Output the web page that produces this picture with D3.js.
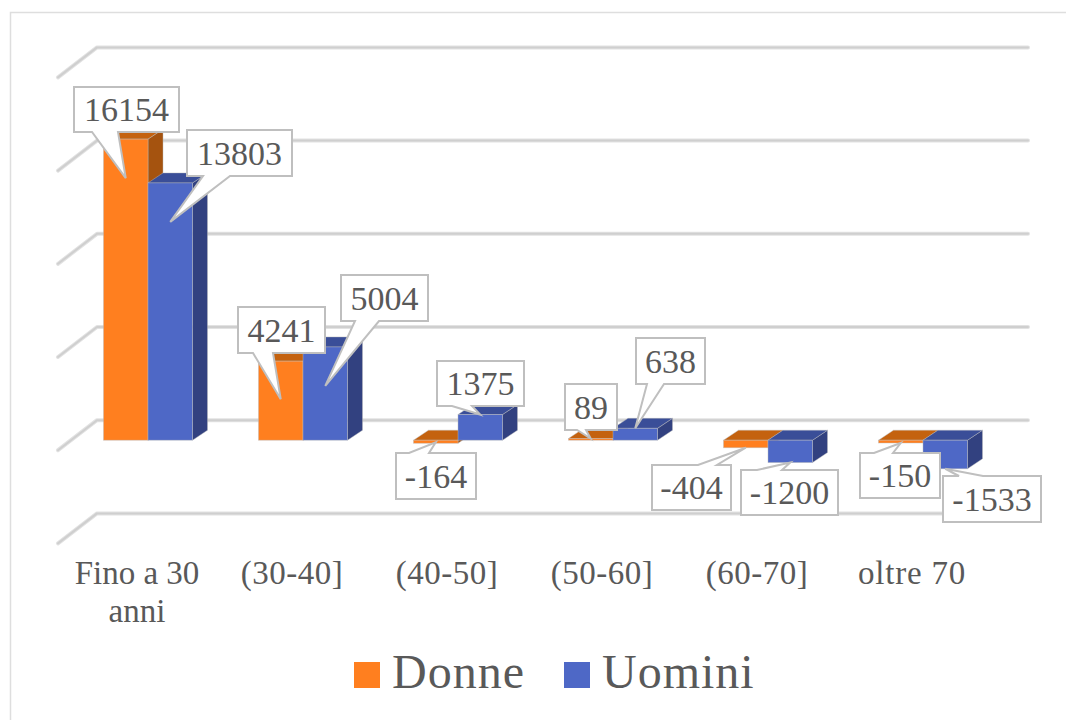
<!DOCTYPE html>
<html><head><meta charset="utf-8">
<script src="https://cdn.jsdelivr.net/npm/d3@7"></script>
<style>html,body{margin:0;padding:0;background:#fff}svg{display:block}text{font-family:"Liberation Serif",serif;fill:#595959}</style>
</head><body><svg id="c" width="1066" height="720"></svg>
<script>
const categories = ["Fino a 30 anni","(30-40]","(40-50]","(50-60]","(60-70]","oltre 70"];
const categoryLines = [["Fino a 30","anni"],["(30-40]"],["(40-50]"],["(50-60]"],["(60-70]"],["oltre 70"]];
const seriesNames = ["Donne","Uomini"];
const donne = [16154,4241,-164,89,-404,-150];
const uomini = [13803,5004,1375,638,-1200,-1533];
const gridTicks = [-5000,0,5000,10000,15000,20000];
// Callout box layout [left, top, right, bottom, tail base start, tail base end, tip drop into bar]
const calloutsDonne = [[74,87,179,132,92,118,39],[238,307,325,353,253,273,38],[396,453,476,499,409,429,-1],[565,384,617,430,577,586,0],[652,465,731,510,698,717,0],[860,453,940,498,874,893,0]];
const calloutsUomini = [[187,130,292,176,203,230,39],[341,275,428,321,355,379,39],[437,361,524,406,452,472,0],[636,338,705,384,647,664,0],[741,470,838,515,757,782,0],[943,476,1041,522,959,983,0]];

const svg = d3.select("#c");
const colors = {Donne:{front:"#FF7F1F",top:"#C4620F",side:"#A5530F"},Uomini:{front:"#4E68C6",top:"#3A4E98",side:"#324180"}};
const depthX = 15, depthY = 10;          // bar depth
const wallX = 39, wallY = 30;            // floor depth
const x0 = d3.scaleBand().domain(categories).range([58,988]);
const x1 = d3.scaleBand().domain(seriesNames).range([45.5,134.5]);
const yFront = d3.scaleLinear().domain([-5000,20000]).range([533.4,67.4]);   // bar front plane
const yWall = v => yFront(v) - 20;                                           // back wall plane

// frame
svg.append("path").attr("d","M10.5,720V12.5H1066").attr("fill","none").attr("stroke","#DEDEDE").attr("stroke-width",1.5);

// gridlines
const grid = svg.append("g").attr("fill","none").attr("stroke-linecap","round").attr("stroke-linejoin","round");
gridTicks.forEach(t=>{
  const y=yWall(t), d=`M58,${y+wallY}L${58+wallX},${y}H1028`;
  grid.append("path").attr("d",d).attr("stroke","#E2E2E2").attr("stroke-width",4);
  grid.append("path").attr("d",d).attr("stroke","#CFCFCF").attr("stroke-width",2);
});

// bars
const bars = svg.append("g");
function drawBar(cat,name,v){
  const c=colors[name], l=x0(cat)+x1(name), r=l+x1.bandwidth();
  const yv=yFront(v), y0=yFront(0), t=Math.min(yv,y0), b=Math.max(yv,y0);
  const g=bars.append("g").attr("stroke","#B9B9B9").attr("stroke-opacity",.55).attr("stroke-width",.8);
  g.append("path").attr("fill",c.side).attr("d",`M${r},${t}L${r+depthX},${t-depthY}V${b-depthY}L${r},${b}Z`);
  g.append("path").attr("fill",c.top).attr("d",`M${l},${t}L${l+depthX},${t-depthY}H${r+depthX}L${r},${t}Z`);
  g.append("rect").attr("fill",c.front).attr("x",l).attr("y",t).attr("width",r-l).attr("height",b-t);
}
categories.forEach((cat,i)=>{drawBar(cat,"Donne",donne[i]);drawBar(cat,"Uomini",uomini[i]);});

// callouts
const labels = svg.append("g");
function drawCallout(cat,name,v,lay){
  const [a,b,c,d,s,e,drop]=lay;
  const tx=x0(cat)+x1(name)+x1.bandwidth()/2, ty=yFront(v)+drop;
  const above = ty>d-1;       // tip below the box: tail leaves bottom edge
  const p = above
    ? `M${a},${b}H${c}V${d}H${e}L${tx},${ty}L${s},${d}H${a}Z`
    : `M${a},${b}H${s}L${tx},${ty}L${e},${b}H${c}V${d}H${a}Z`;
  labels.append("path").attr("d",p).attr("fill","#fff").attr("stroke","#BFBFBF").attr("stroke-width",2).attr("stroke-linejoin","miter");
  labels.append("text").attr("x",(a+c)/2).attr("y",(b+d)/2+11.5).attr("text-anchor","middle")
    .attr("font-size",34).text(v);
}
categories.forEach((cat,i)=>{
  drawCallout(cat,"Donne",donne[i],calloutsDonne[i]);
  drawCallout(cat,"Uomini",uomini[i],calloutsUomini[i]);
});

// category labels
const categorySpacing = [0,.5,.5,.5,.5,.8];
categoryLines.forEach((ls,i)=>{
  ls.forEach((s,j)=>svg.append("text").attr("x",x0(categories[i])+x0.bandwidth()/2+1.5).attr("y",584+j*38)
    .attr("text-anchor","middle").attr("font-size",33).attr("letter-spacing",categorySpacing[i]).text(s));
});

// legend
const legendX=[354,564], legendTextX=[392,602];
seriesNames.forEach((n,i)=>{
  svg.append("rect").attr("x",legendX[i]).attr("y",662).attr("width",26).attr("height",26).attr("fill",colors[n].front);
  svg.append("text").attr("x",legendTextX[i]).attr("y",688).attr("font-size",48).attr("letter-spacing",1).text(n);
});
</script></body></html>
